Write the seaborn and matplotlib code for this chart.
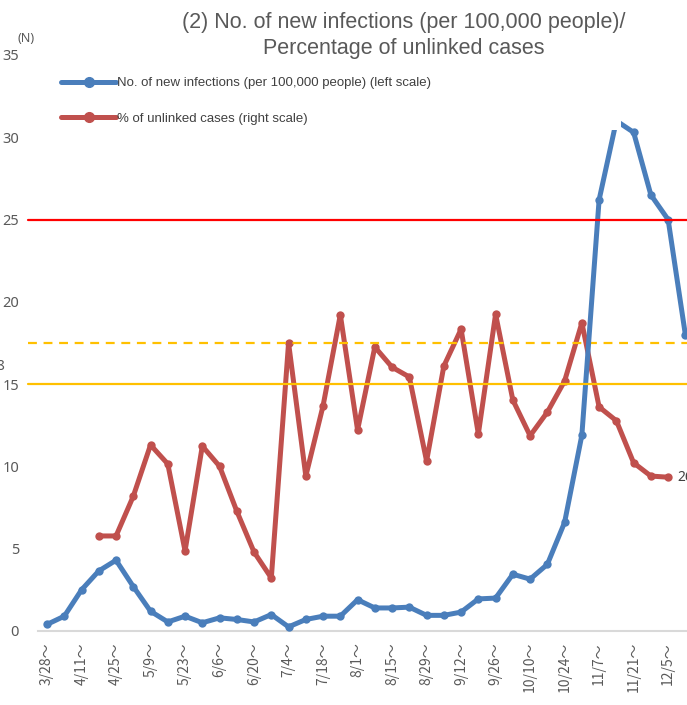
import numpy as np
import pandas as pd
import seaborn as sns
import matplotlib.pyplot as plt
from matplotlib.lines import Line2D
from matplotlib.patches import Rectangle


# 週の区切り (3/28 ~ 12/12)
weeks = ['3/28', '4/4', '4/11', '4/18', '4/25', '5/2', '5/9', '5/16', '5/23', '5/30',
         '6/6', '6/13', '6/20', '6/27', '7/4', '7/11', '7/18', '7/25', '8/1', '8/8',
         '8/15', '8/22', '8/29', '9/5', '9/12', '9/19', '9/26', '10/3', '10/10', '10/17',
         '10/24', '10/31', '11/7', '11/14', '11/21', '11/28', '12/5', '12/12']

# 新規陽性者数 (10万人あたり) - 左軸
new_cases = [0.4, 0.9, 2.5, 3.65, 4.3, 2.7, 1.2, 0.55, 0.9, 0.5,
             0.8, 0.7, 0.55, 1.0, 0.25, 0.7, 0.9, 0.9, 1.9, 1.4,
             1.4, 1.45, 0.95, 0.95, 1.15, 1.95, 2.0, 3.45, 3.15, 4.05,
             6.6, 11.9, 26.2, 31.0, 30.3, 26.5, 25.0, 18.0]

# 感染経路不明割合 (%) - 右軸
unlinked_pct = [np.nan, np.nan, np.nan, 16.5, 16.5, 23.4, 32.3, 29.0, 13.9, 32.1,
                28.6, 20.8, 13.7, 9.2, 50.0, 26.9, 39.1, 54.9, 34.9, 49.3,
                45.8, 44.1, 29.5, 46.0, 52.4, 34.2, 55.0, 40.1, 33.9, 38.0,
                43.4, 53.5, 38.9, 36.5, 29.2, 26.9, 26.7, np.nan]

stage4_cases = 25
stage3_cases = 15
stage_unlinked = 50
last_label = '26.7%'

BLUE = '#4A7EBB'
RED = '#C0504D'
YELLOW = '#FFC000'
GREY = '#595959'

W, H = 687, 705
sns.set_theme(style='white')
plt.rcParams['font.family'] = ['Liberation Sans', 'DejaVu Sans']

df = pd.DataFrame({'pos': np.arange(len(weeks)), 'week': weeks,
                   'cases': new_cases, 'unlinked': unlinked_pct})

fig = plt.figure(figsize=(W / 100, H / 100), dpi=100)
x0, x1 = 38.4, 694
y0, y1 = 631, 55
ax = fig.add_axes([x0 / W, 1 - y0 / H, (x1 - x0) / W, (y0 - y1) / H])
ax2 = ax.twinx()

# 右軸: 感染経路不明割合
sns.lineplot(data=df, x='pos', y='unlinked', ax=ax2, color=RED, lw=3.6,
             marker='o', markersize=6, markeredgewidth=0)
ax2.axhline(stage_unlinked, xmin=-10 / (x1 - x0), color=YELLOW, lw=1.6,
            ls=(0, (4, 3)), clip_on=False)
ax2.set_ylim(0, 100)
ax2.set_yticks([])
ax2.set_ylabel('')
for s in ax2.spines.values():
    s.set_visible(False)

# 左軸: 新規陽性者数
sns.lineplot(data=df, x='pos', y='cases', ax=ax, color=BLUE, lw=3.6,
             marker='o', markersize=6, markeredgewidth=0, zorder=3)
ax.axhline(stage4_cases, xmin=-10 / (x1 - x0), color='#FF0000', lw=1.6, zorder=4, clip_on=False)
ax.axhline(stage3_cases, xmin=-10 / (x1 - x0), color=YELLOW, lw=1.6, zorder=4, clip_on=False)
ax.set_zorder(ax2.get_zorder() + 1)
ax.patch.set_visible(False)

ax.set_xlim(-0.5, len(weeks) - 0.5)
ax.set_ylim(0, 35)
ax.set_yticks(range(0, 36, 5))
ax.set_yticklabels([str(v) for v in range(0, 36, 5)], fontsize=10.5, color=GREY,
                   family=['Noto Sans', 'DejaVu Sans'])
ax.set_xticks(df['pos'][::2])
ax.set_xticklabels([w + '～' for w in weeks[::2]], rotation=90, fontsize=10, color=GREY,
                   family=['Noto Sans CJK JP', 'DejaVu Sans'])
ax.tick_params(axis='y', length=0, pad=14)
ax.tick_params(axis='x', length=0, pad=8)
ax.set_xlabel('')
ax.set_ylabel('')
for s in ['top', 'right', 'left']:
    ax.spines[s].set_visible(False)
ax.spines['bottom'].set_color('#D9D9D9')
ax.spines['bottom'].set_linewidth(1.5)

# 右端のデータラベル
ax2.text(36 + 0.55, unlinked_pct[36], last_label, fontsize=10, color='#404040',
         va='center', ha='left', family=['Noto Sans', 'DejaVu Sans'], clip_on=False)

# 凡例の白い枠 (ピークが隠れる)
ax.add_patch(Rectangle((55 / W, 1 - 130 / H), (621 - 55) / W, 66 / H, transform=fig.transFigure,
                       facecolor='white', edgecolor='none', zorder=10, clip_on=False))
handles = [Line2D([], [], color=BLUE, lw=3.6, marker='o', markersize=7),
           Line2D([], [], color=RED, lw=3.6, marker='o', markersize=7)]
labels = ['No. of new infections (per 100,000 people) (left scale)',
          '% of unlinked cases (right scale)']
leg = ax.legend(handles, labels, loc='upper left', bbox_to_anchor=(61 / W, 1 - 77 / H),
                bbox_transform=fig.transFigure, frameon=False, fontsize=9.5,
                handlelength=4.2, handletextpad=0.05, labelspacing=1.75,
                borderpad=0, borderaxespad=0, numpoints=1)
for t in leg.get_texts():
    t.set_color('#404040')
leg.set_zorder(11)

fig.text(404 / W, 1 - 12 / H, '(2) No. of new infections (per 100,000 people)/\nPercentage of unlinked cases',
         ha='center', va='top', fontsize=15.5, color=GREY, linespacing=1.3)
fig.text(18 / W, 1 - 38 / H, '(N)', ha='left', va='center', fontsize=9, color=GREY,
         family=['Noto Sans', 'DejaVu Sans'])
fig.text(5.5 / W, 1 - 366 / H, '18', ha='right', va='center', fontsize=10, color=GREY,
         family=['Noto Sans', 'DejaVu Sans'])

plt.savefig('out.png', dpi=100)
